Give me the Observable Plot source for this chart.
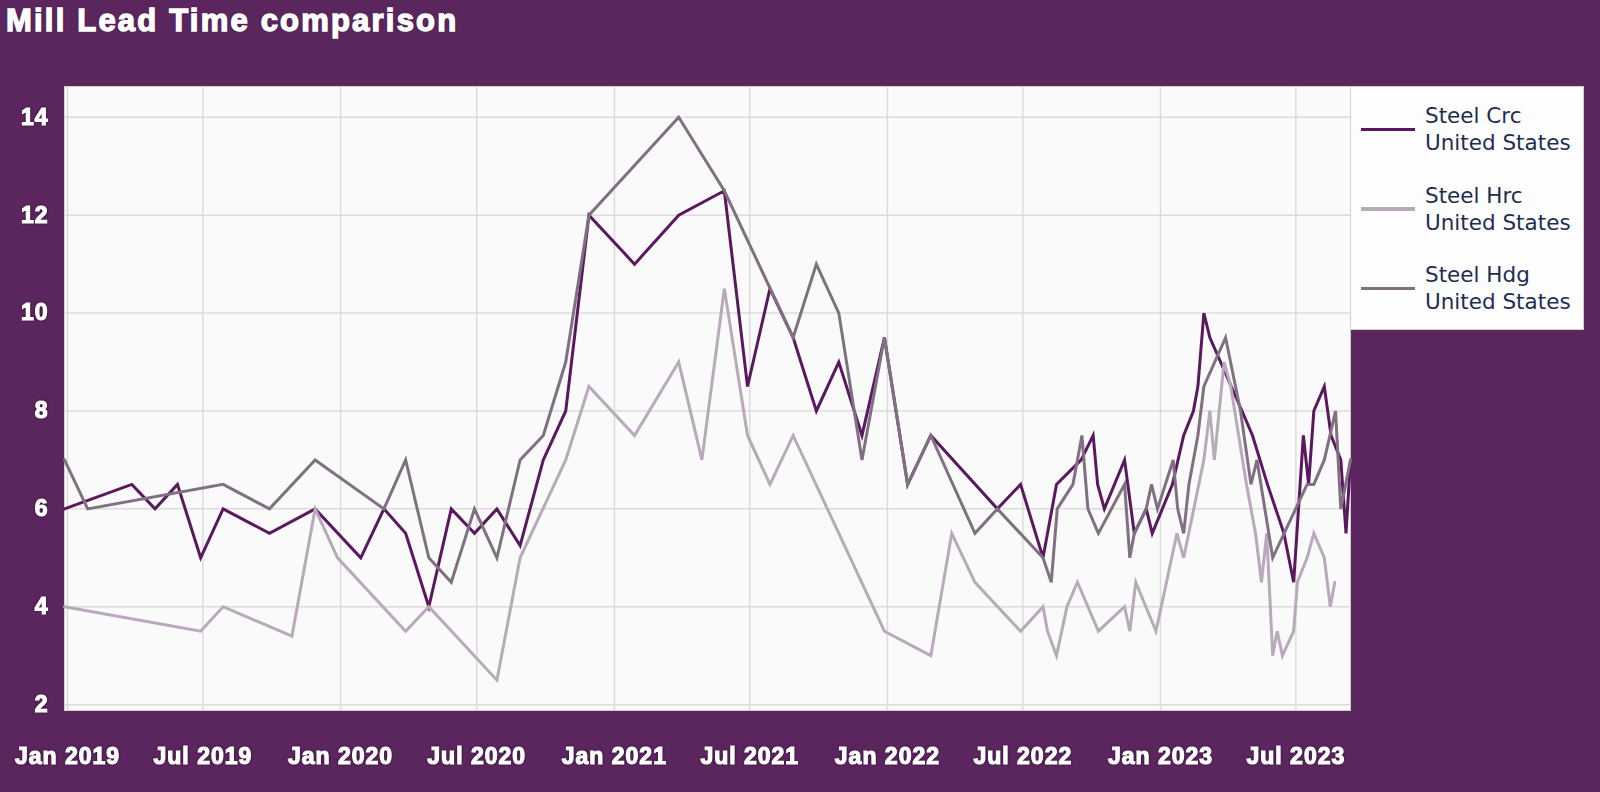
<!DOCTYPE html>
<html>
<head>
<meta charset="utf-8">
<script src="https://cdn.jsdelivr.net/npm/d3@7"></script>
<script src="https://cdn.jsdelivr.net/npm/@observablehq/plot@0.6"></script>
<style>
  html, body { margin: 0; padding: 0; background: #5b255e; }
  #wrap { position: relative; width: 1600px; height: 792px; background: #5b255e; overflow: hidden; }
  #title { height: 60px; box-sizing: border-box; padding: 3px 0 0 6px; font-family: "Liberation Sans", Arial, sans-serif;
    font-weight: bold; font-size: 31px; letter-spacing: 2.2px; color: #fff; line-height: 36px;
    -webkit-text-stroke: 1.4px #fff; text-shadow: 0 0 2px #2a0a2e, 0 0 1px #2a0a2e; }
  #chart svg text { letter-spacing: 1px; stroke: #fff; stroke-width: 1.2px; filter: drop-shadow(0 0 1px #2a0a2e); }
  #legend { position: absolute; left: 1350px; top: 86px; width: 234px; height: 244px; box-sizing: border-box;
    background: #fdfdfd; border: 1px solid #cfcfcf; }
  .item { position: absolute; left: 0; }
  .swatch { position: absolute; left: 10px; width: 54px; height: 3.5px; }
  .ltext { position: absolute; left: 74px; font-family: "DejaVu Sans", Verdana, sans-serif; font-size: 21.5px;
    line-height: 27px; color: #1f2d50; white-space: pre; }
</style>
</head>
<body>
<div id="wrap">
  <div id="title">Mill Lead Time comparison</div>
  <div id="chart"></div>
  <div id="legend"></div>
</div>
<script>
// ---------- data ----------
const seriesNames = ["Steel Crc", "Steel Hrc", "Steel Hdg"];
const seriesRegion = ["United States", "United States", "United States"];
const seriesColors = ["#5a195f", "#b8a9bb", "#807182"];

const crcDates = ["2018-12-28","2019-03-28","2019-04-28","2019-05-28","2019-06-28","2019-07-28","2019-09-28","2019-11-28",
  "2020-01-28","2020-02-28","2020-03-28","2020-04-28","2020-05-28","2020-06-28","2020-07-28","2020-08-28","2020-09-28",
  "2020-10-28","2020-11-28","2021-01-28","2021-03-28","2021-05-28","2021-06-28","2021-07-28","2021-08-28","2021-09-28",
  "2021-10-28","2021-11-28","2021-12-28","2022-01-28","2022-02-28","2022-05-28","2022-06-28","2022-07-28","2022-08-03",
  "2022-08-15","2022-09-17","2022-10-03","2022-10-09","2022-10-18","2022-11-14","2022-11-27","2022-12-13","2022-12-21",
  "2023-01-17","2023-02-01","2023-02-14","2023-02-20","2023-02-28","2023-03-08","2023-04-20","2023-05-04","2023-05-24",
  "2023-06-15","2023-06-28","2023-07-11","2023-07-18","2023-07-25","2023-08-08","2023-08-17","2023-08-30","2023-09-06",
  "2023-09-12"];
const crcValues = [6.0,6.5,6.0,6.5,5.0,6.0,5.5,6.0,
  5.0,6.0,5.5,4.0,6.0,5.5,6.0,5.25,7.0,
  8.0,12.0,11.0,12.0,12.5,8.5,10.5,9.5,8.0,
  9.0,7.5,9.5,6.5,7.5,6.0,6.5,5.0,5.5,
  6.5,7.0,7.5,6.5,6.0,7.0,5.5,6.0,5.5,
  6.5,7.5,8.0,8.5,10.0,9.5,8.0,7.5,6.5,
  5.5,4.5,7.5,6.5,8.0,8.5,7.5,7.0,5.5,
  7.0];

const hrcDates = ["2018-12-28","2019-06-28","2019-07-28","2019-10-28","2019-11-28","2019-12-28","2020-03-28","2020-04-28",
  "2020-07-28","2020-08-28","2020-10-28","2020-11-28","2021-01-28","2021-03-28","2021-04-28","2021-05-28","2021-06-28",
  "2021-07-28","2021-08-28","2021-12-28","2022-02-28","2022-03-28","2022-04-28","2022-06-28","2022-07-28","2022-08-03",
  "2022-08-15","2022-08-29","2022-09-12","2022-10-10","2022-11-14","2022-11-21","2022-11-29","2022-12-26","2023-01-23",
  "2023-02-01","2023-02-28","2023-03-08","2023-03-14","2023-03-27","2023-04-05","2023-04-26","2023-05-08","2023-05-16",
  "2023-05-23","2023-05-31","2023-06-06","2023-06-13","2023-06-28","2023-07-03","2023-07-16","2023-07-25","2023-08-08",
  "2023-08-16","2023-08-22"];
const hrcValues = [4.0,3.5,4.0,3.4,6.0,5.0,3.5,4.0,
  2.5,5.0,7.0,8.5,7.5,9.0,7.0,10.5,7.5,
  6.5,7.5,3.5,3.0,5.5,4.5,3.5,4.0,3.5,
  3.0,4.0,4.5,3.5,4.0,3.5,4.5,3.5,5.5,
  5.0,7.0,8.0,7.0,9.0,8.5,6.5,5.5,4.5,
  5.5,3.0,3.5,3.0,3.5,4.5,5.0,5.5,5.0,
  4.0,4.5];

const hdgDates = ["2018-12-28","2019-01-28","2019-07-28","2019-09-28","2019-11-28","2020-02-28","2020-03-28","2020-04-28",
  "2020-05-28","2020-06-28","2020-07-28","2020-08-28","2020-09-28","2020-10-28","2020-11-28","2021-03-28","2021-05-28",
  "2021-08-28","2021-09-28","2021-10-28","2021-11-28","2021-12-28","2022-01-28","2022-02-28","2022-04-28","2022-05-28",
  "2022-07-28","2022-08-08","2022-08-16","2022-09-06","2022-09-18","2022-09-26","2022-10-10","2022-11-14","2022-11-21",
  "2022-11-27","2022-12-13","2022-12-20","2022-12-28","2023-01-18","2023-01-24","2023-02-01","2023-02-08","2023-02-20",
  "2023-02-28","2023-03-29","2023-04-18","2023-05-02","2023-05-10","2023-05-31","2023-07-16","2023-07-25","2023-08-08",
  "2023-08-23","2023-08-30","2023-09-12"];
const hdgValues = [7.0,6.0,6.5,6.0,7.0,6.0,7.0,5.0,
  4.5,6.0,5.0,7.0,7.5,9.0,12.0,14.0,12.5,
  9.5,11.0,10.0,7.0,9.5,6.5,7.5,5.5,6.0,
  5.0,4.5,6.0,6.5,7.5,6.0,5.5,6.5,5.0,
  5.5,6.0,6.5,6.0,7.0,6.0,5.5,6.5,7.5,
  8.5,9.5,8.0,6.5,7.0,5.0,6.5,6.5,7.0,
  8.0,6.0,7.0];

const xTickDates = ["2019-01-01","2019-07-01","2020-01-01","2020-07-01","2021-01-01","2021-07-01",
  "2022-01-01","2022-07-01","2023-01-01","2023-07-01"];
const yTicks = [2, 4, 6, 8, 10, 12, 14];

// ---------- build ----------
const parse = d3.utcParse("%Y-%m-%d");
const rows = [];
[[crcDates, crcValues], [hrcDates, hrcValues], [hdgDates, hdgValues]].forEach(([ds, vs], i) => {
  ds.forEach((d, j) => rows.push({date: parse(d), value: vs[j], series: seriesNames[i]}));
});
const xTicks = xTickDates.map(parse);

const chart = Plot.plot({
  width: 1600,
  height: 732,
  marginTop: 26,
  marginBottom: 82,
  marginLeft: 64,
  marginRight: 250,
  style: {fontFamily: "'Liberation Sans', Arial, sans-serif", fontSize: "23px", fontWeight: "bold", color: "#ffffff", background: "transparent", overflow: "visible"},
  x: {type: "utc", domain: [parse("2018-12-28"), parse("2023-09-12")], label: null},
  y: {domain: [1.88, 14.63], label: null},
  color: {domain: seriesNames, range: seriesColors},
  marks: [
    Plot.frame({fill: "#fafafa", stroke: null}),
    Plot.gridX(xTicks, {stroke: "#dcdcdc", strokeOpacity: 1, strokeWidth: 1.5}),
    Plot.gridY(yTicks, {stroke: "#dcdcdc", strokeOpacity: 1, strokeWidth: 1.5}),
    Plot.frame({stroke: "#cfcfcf", strokeWidth: 1}),
    Plot.lineY(rows, {x: "date", y: "value", z: "series", stroke: "series", strokeWidth: 3, strokeLinejoin: "miter", strokeMiterlimit: 4}),
    Plot.axisX(xTicks, {tickFormat: d3.utcFormat("%b %Y"), tickSize: 0, tickPadding: 37, fill: "#ffffff"}),
    Plot.axisY(yTicks, {tickSize: 0, tickPadding: 16, fill: "#ffffff"})
  ]
});
document.getElementById("chart").appendChild(chart);

// ---------- legend ----------
const legend = d3.select("#legend");
seriesNames.forEach((name, i) => {
  const top = 20 + i * 79.5;
  const item = legend.append("div").attr("class", "item").style("top", top + "px");
  item.append("div").attr("class", "swatch").style("background", seriesColors[i]).style("top", "20.5px");
  item.append("div").attr("class", "ltext").style("top", "-5px").text(name + "\n" + seriesRegion[i]);
});
</script>
</body>
</html>
